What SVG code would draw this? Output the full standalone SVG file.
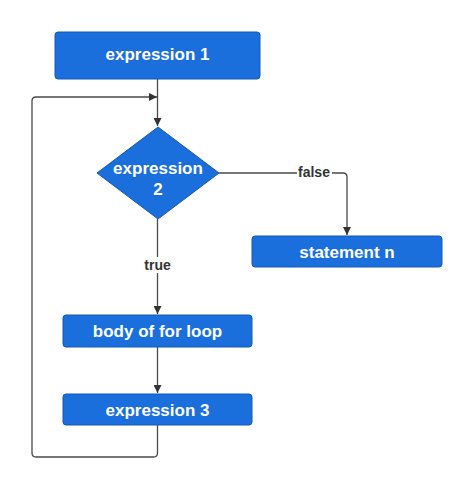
<svg xmlns="http://www.w3.org/2000/svg" width="474" height="489" viewBox="0 0 474 489">
<style>
.box{fill:#1a6fdc;stroke:#1459b8;stroke-width:1}
.lbl{font-family:"Liberation Sans",Arial,sans-serif;font-weight:bold;font-size:17px;fill:#ffffff;text-anchor:middle}
.edge{fill:none;stroke:#4a4a4a;stroke-width:1.3}
.elbl{font-family:"Liberation Sans",Arial,sans-serif;font-weight:bold;font-size:14px;fill:#333333;text-anchor:middle}
</style>
<defs>
<marker id="arr" viewBox="0 0 10 10" refX="10" refY="5" markerWidth="8" markerHeight="8" markerUnits="userSpaceOnUse" orient="auto">
<path d="M0,0 L10,5 L0,10 z" fill="#333333"/>
</marker>
</defs>
<rect width="474" height="489" fill="#ffffff"/>
<g id="connectors">
<path class="edge" d="M157.5,79 V126" marker-end="url(#arr)"/>
<path class="edge" d="M157.5,425 V453 Q157.5,457 153.5,457 H36 Q32,457 32,453 V101 Q32,97 36,97 H157" marker-end="url(#arr)"/>
<path class="edge" d="M219,173 H343 Q347,173 347,177 V235" marker-end="url(#arr)"/>
<rect x="297" y="164" width="35" height="16" fill="#ffffff"/>
<text class="elbl" x="314" y="177">false</text>
<path class="edge" d="M157.5,219 V314" marker-end="url(#arr)"/>
<rect x="142" y="257" width="31" height="16" fill="#ffffff"/>
<text class="elbl" x="157.5" y="270">true</text>
<path class="edge" d="M157.5,347 V393" marker-end="url(#arr)"/>
</g>
<g id="expression1">
<rect class="box" x="55" y="32" width="205" height="47" rx="3"/>
<text class="lbl" x="157.5" y="60">expression 1</text>
</g>
<g id="expression2">
<path class="box" d="M158,127 L219,173 L158,219 L97,173 Z" stroke-linejoin="round"/>
<text class="lbl" x="158" y="174">expression</text>
<text class="lbl" x="158" y="195">2</text>
</g>
<g id="statementn">
<rect class="box" x="252" y="236" width="190" height="31" rx="3"/>
<text class="lbl" x="347" y="258">statement n</text>
</g>
<g id="body">
<rect class="box" x="63" y="315" width="189" height="32" rx="3"/>
<text class="lbl" x="157.5" y="337">body of for loop</text>
</g>
<g id="expression3">
<rect class="box" x="63" y="394" width="189" height="31" rx="3"/>
<text class="lbl" x="157.5" y="416">expression 3</text>
</g>
</svg>
